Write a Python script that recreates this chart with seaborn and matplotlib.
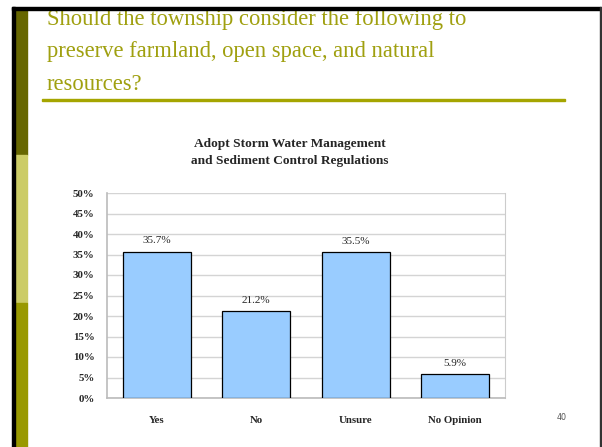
import pandas as pd
import numpy as np
import matplotlib.pyplot as plt
import seaborn as sns
from matplotlib.patches import Rectangle

answers = ['Yes', 'No', 'Unsure', 'No Opinion']
shares = [35.7, 21.2, 35.5, 5.9]
yticks = [0, 5, 10, 15, 20, 25, 30, 35, 40, 45, 50]
title_lines = ['Should the township consider the following to',
               'preserve farmland, open space, and natural',
               'resources?']

df = pd.DataFrame({'Answer': answers, 'Share': shares})

sns.set_style('white')
plt.rcParams['font.family'] = ['Liberation Serif', 'DejaVu Serif']

W, H = 602, 447
fig = plt.figure(figsize=(W / 100, H / 100), dpi=100)

# slide frame and coloured strip on the left
def box(x0, y0, x1, y1, color, z=0):
    fig.patches.append(Rectangle((x0 / W, 1 - y1 / H), (x1 - x0) / W, (y1 - y0) / H,
                                 transform=fig.transFigure, color=color, zorder=z))

box(15, 9, 27, 155, '#666600')
box(15, 155, 27, 303, '#CCCC66')
box(15, 303, 27, 447, '#999900')
box(42, 99, 565, 101, '#A5A500')

for k, line in enumerate(title_lines):
    fig.text(47 / W, 1 - (25.5 + 32 * k) / H, line, ha='left', va='baseline',
             fontsize=16.3, color='#A0A010', zorder=1)

# frame drawn over the title so the first line is clipped at the top like the slide
top = Rectangle((0, 1 - 7 / H), 1, 7 / H, transform=fig.transFigure, color='white', zorder=5)
fig.patches.append(top)
box(12, 7, 601, 9.5, 'black', 6)
box(12, 7, 15, 447, 'black', 6)
box(599.5, 7, 601, 447, '#333333', 6)

fig.text(290 / W, 1 - 152.5 / H, 'Adopt Storm Water Management\nand Sediment Control Regulations',
         ha='center', va='center', fontsize=9.6, fontweight='bold', linespacing=1.6)

fig.text(562 / W, 1 - 418 / H, '40', ha='center', va='center', fontsize=5.8,
         family='DejaVu Sans', color='#555555')

ax = fig.add_axes([107 / W, 1 - 398 / H, 398 / W, 205 / H])
sns.barplot(data=df, x='Answer', y='Share', color='#99CCFF', width=0.68,
            edgecolor='black', linewidth=0.9, saturation=1, ax=ax, zorder=3)

for i, v in enumerate(shares):
    ax.text(i, v + 1.5, f'{v:.1f}%', ha='center', va='bottom', fontsize=8)

ax.set_ylim(0, 50)
ax.set_xlim(-0.5, len(answers) - 0.5)
ax.set_yticks(yticks)
ax.set_yticklabels([f'{t}%' for t in yticks], fontsize=7.8, fontweight='bold')
ax.set_xticklabels(answers, fontsize=7.8, fontweight='bold')
ax.set_xticks(np.arange(-0.5, len(answers)), minor=True)
ax.tick_params(axis='x', which='major', length=0, pad=13)
ax.tick_params(axis='x', which='minor', length=4, color='#BBBBBB', width=1)
ax.tick_params(axis='y', length=4, color='#BBBBBB', width=1, pad=5)
ax.yaxis.grid(True, color='#D4D4D4', linewidth=1)
ax.set_axisbelow(True)
ax.set_xlabel('')
ax.set_ylabel('')
for side in ['left', 'bottom']:
    ax.spines[side].set_color('#BBBBBB')
    ax.spines[side].set_linewidth(1.2)
ax.spines['right'].set_color('#CCCCCC')
ax.spines['top'].set_visible(False)

fig.savefig('out.png', dpi=100)
